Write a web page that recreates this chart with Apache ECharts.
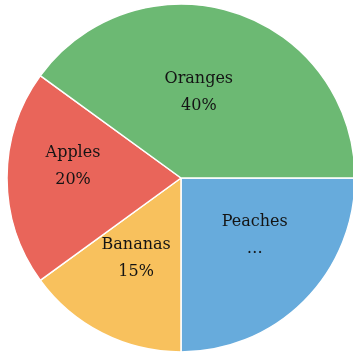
<!DOCTYPE html>
<html><head><meta charset="utf-8">
<script src="https://cdn.jsdelivr.net/npm/echarts@6/dist/echarts.min.js"></script>
<style>html,body{margin:0;padding:0;background:#fff}#c{width:353px;height:353px}</style>
</head><body><div id="c"></div>
<script>
var categories = ['Peaches', 'Bananas', 'Apples', 'Oranges'];
var values = [25, 15, 20, 40];
var secondLines = ['…', '15%', '20%', '40%'];
var colors = ['#67abdc', '#f8c15d', '#e9655a', '#6cb973'];
var offsets = [[10, -6], [-4, 0], [-18, -12], [-10, 0]];

var chart = echarts.init(document.getElementById('c'), null, {renderer: 'canvas'});
chart.setOption({
  animation: false,
  series: [{
    type: 'pie',
    center: [181, 178],
    radius: [0, 174],
    startAngle: 0,
    clockwise: true,
    data: categories.map(function (c, i) {
      return {name: c, value: values[i], itemStyle: {color: colors[i]},
        label: {offset: offsets[i]}};
    }),
    itemStyle: {borderColor: '#ffffff', borderWidth: 1.5},
    label: {
      position: 'inside',
      color: '#141414',
      fontFamily: 'DejaVu Serif',
      fontSize: 16,
      lineHeight: 27,
      formatter: function (p) { return p.name + '\n' + secondLines[p.dataIndex]; }
    },
    labelLine: {show: false},
    emphasis: {disabled: true}
  }]
});
</script></body></html>
